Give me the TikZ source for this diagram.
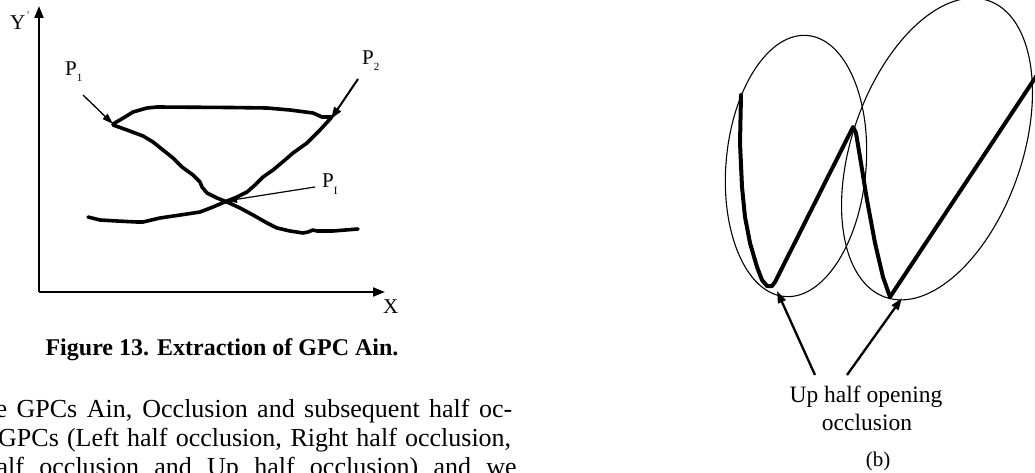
\documentclass[tikz,border=0pt]{standalone}
\usepackage{fontspec}
\setmainfont{Liberation Serif}
\usetikzlibrary{arrows.meta}
\definecolor{primeblue}{RGB}{40,110,200}
\newcommand{\sbx}[1]{\raisebox{-6pt}{\fontsize{11}{11}\selectfont #1}}
\begin{document}
\begin{tikzpicture}[x=1pt,y=-1pt,
  axisline/.style={line width=2pt,-{Triangle[length=12pt,width=9pt]}},
  hand/.style={line width=3.6pt,line join=round,line cap=round},
  pen/.style={line width=4pt,line join=round,line cap=round},
  thinarrow/.style={line width=1.3pt,-{Triangle[length=11pt,width=7pt]}},
  midarrow/.style={line width=2pt,-{Triangle[length=12pt,width=8pt]}},
  lbl/.style={font=\fontsize{21}{24}\selectfont,inner sep=0pt,anchor=base west},
  oval/.style={line width=1.1pt},
  bodytext/.style={font=\fontsize{26}{29}\selectfont,inner sep=0pt,anchor=base west},
  caption/.style={font=\fontsize{24}{28}\selectfont\bfseries,inner sep=0pt,anchor=base},
  rlabel/.style={font=\fontsize{23.5}{27}\selectfont,inner sep=0pt,anchor=base},
]
\useasboundingbox (0,0) rectangle (1035,473);
\clip (0,0) rectangle (1035,473);

% ---------- left figure: axes ----------
\coordinate (origin) at (39,292);
\coordinate (ytip) at (39,6);
\coordinate (xtip) at (385,292);
\draw[axisline] (origin) -- (ytip);
\draw[axisline] (origin) -- (xtip);
\node[lbl] (ylab) at (10,30) {Y};
\node[font=\fontsize{12}{12}\selectfont,text=primeblue,inner sep=0pt] (yprime) at (28,16) {'};
\node[lbl] (xlab) at (383,313) {X};

% ---------- curves ----------
\draw[hand] (113,124) -- (125,117) -- (133,112) -- (147,108) -- (157,107)
  -- (230,107.5) -- (267,108) -- (290,110) -- (313,113) -- (322,117) -- (332,117);
\draw[hand] (113,125) -- (127,130) -- (143,136) -- (153,142) -- (163,150)
  -- (173,158) -- (182,167) -- (193,175) -- (200,182) -- (202,187) -- (207,193)
  -- (217,198) -- (227,202) -- (240,208) -- (253,215) -- (267,223) -- (277,228)
  -- (290,231) -- (303,233) -- (308,232) -- (313,230) -- (317,231) -- (333,231)
  -- (358,229);
\draw[hand] (331,118) -- (320,130) -- (307,143) -- (293,153) -- (285,160)
  -- (273,170) -- (263,177) -- (255,185) -- (247,192) -- (237,197) -- (227,201)
  -- (213,207) -- (200,212) -- (187,214) -- (160,218) -- (143,222) -- (137,222)
  -- (117,221) -- (100,220) -- (88,217);

% ---------- point labels and pointers ----------
\node[lbl] (p1) at (65,76) {P\sbx{1}};
\node[lbl] (p2) at (362,65) {P\sbx{2}};
\node[lbl] (pi) at (322,188) {P\sbx{I}};
\coordinate (p1s) at (83,95);
\coordinate (p1t) at (113,124);
\coordinate (p2s) at (358,79);
\coordinate (p2t) at (331,119);
\coordinate (pis) at (315,187);
\coordinate (pit) at (226,201);
\draw[thinarrow] (p1s) -- (p1t);
\draw[midarrow] (p2s) -- (p2t);
\draw[thinarrow,line width=1.2pt] (pis) -- (pit);

% ---------- caption and body text ----------
\node[caption] (cap) at (222,355) {Figure 13. Extraction of GPC Ain.};
\node[bodytext] (l1) at (-4.5,417) {\makebox[516.5pt][s]{e GPCs Ain, Occlusion and subsequent half oc-}};
\node[bodytext] (l2) at (-2,446) {\makebox[513pt][s]{GPCs (Left half occlusion, Right half occlusion,}};
\node[bodytext] (l3) at (-3.5,475) {\makebox[520pt][s]{alf occlusion and Up half occlusion) and we}};

% ---------- right figure ----------
\draw[oval, rotate around={85:(796,166)}] (796,166) ellipse (131 and 70);
\draw[oval, rotate around={70.8:(937,149)}] (937,149) ellipse (157 and 85);

\draw[pen] (741,95) -- (740,143) -- (742,187) -- (745,217) -- (750,243)
  -- (757,267) -- (762,280) -- (767,286) -- (772,286) -- (775,282)
  -- (853,127) -- (856,133) -- (860,157) -- (867,200) -- (875,243)
  -- (883,277) -- (890,297) -- (1045,63);

\node[rlabel] (uptxt) at (866,402) {Up half opening};
\node[rlabel] (occtxt) at (867,430) {occlusion};
\node[font=\fontsize{21}{24}\selectfont,inner sep=0pt,anchor=base] (blab) at (878,466) {(b)};
\coordinate (las) at (815,375);
\coordinate (lat) at (777,291);
\coordinate (ras) at (847,375);
\coordinate (rat) at (902,298);
\draw[midarrow,line width=2.3pt] (las) -- (lat);
\draw[midarrow,line width=2.3pt] (ras) -- (rat);
\end{tikzpicture}
\end{document}
